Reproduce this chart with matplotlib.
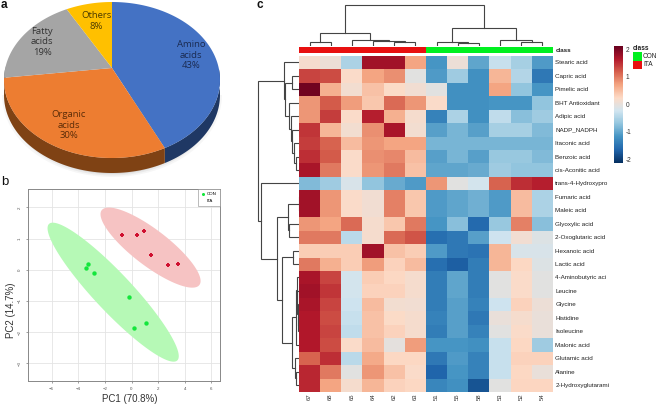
import numpy as np
import matplotlib
matplotlib.use("Agg")
import matplotlib.pyplot as plt
from matplotlib.colors import LinearSegmentedColormap

plt.rcParams['font.family'] = ['Liberation Sans', 'DejaVu Sans']

W, H = 657, 405

# pie data
pie_labels = ["Amino\nacids\n43%", "Organic\nacids\n30%", "Fatty\nacids\n19%", "Others\n8%"]
pie_values = [43, 30, 19, 8]
pie_colors = ["#4472c4", "#ed7d31", "#a5a5a5", "#ffc000"]
pie_sides = ["#1f3864", "#7f4214", "#6b6b6b", "#a07800"]

# pca scores
con_pc1 = [-3.29, -3.44, -2.79, -0.16, 0.16, 1.11]
con_pc2 = [0.17, 0.06, -0.10, -0.86, -1.87, -1.71]
ita_pc1 = [-0.74, 0.44, 0.96, 1.49, 2.74, 3.47]
ita_pc2 = [1.12, 1.13, 1.23, 0.46, 0.14, 0.18]
# ellipse centre, half long axis, half short axis
con_ellipse = [(-1.38, -0.72), (4.82, -2.19), (1.04, 0.42)]
ita_ellipse = [(1.43, 0.71), (3.67, -1.20), (0.82, 0.46)]

# heatmap
samples = ["67", "68", "65", "64", "62", "63", "51", "55", "58", "53", "52", "54"]
metabolites = ["Stearic acid", "Capric acid", "Pimelic acid", "BHT Antioxidant", "Adipic acid",
               "NADP_NADPH", "Itaconic acid", "Benzoic acid", "cis-Aconitic acid",
               "trans-4-Hydroxypro", "Fumaric acid", "Maleic acid", "Glyoxylic acid",
               "2-Oxoglutaric acid", "Hexanoic acid", "Lactic acid", "4-Aminobutyric aci",
               "Leucine", "Glycine", "Histidine", "Isoleucine", "Malonic acid",
               "Glutamic acid", "Alanine", "2-Hydroxyglutarami"]
heat = [
    [.15, .05, -.5, 1.75, 1.75, .7, -1.15, .05, -1.0, -.3, -.55, -1.1],
    [1.35, 1.3, .2, .7, .85, -.05, -1.1, -.6, -1.2, .55, -.45, -1.45],
    [2.05, .6, .12, .45, .22, .1, -.05, -1.2, -1.2, .7, -.7, -1.15],
    [.8, 1.2, .75, .4, 1.1, .8, .2, -1.2, -1.2, -1.15, -1.15, -.7],
    [.8, 1.4, .2, 1.6, .6, .15, -1.35, -.5, -1.2, -.35, -.75, -.6],
    [1.45, .55, .12, .85, 1.7, .12, -1.05, -.85, -1.05, -.55, -.55, -.8],
    [1.4, 1.15, .5, .8, .7, .7, -.85, -.85, -.85, -.85, -.85, -.85],
    [1.5, 1.2, .2, .85, .9, .5, -1.05, -.85, -1.05, -.65, -.65, -.8],
    [1.7, 1.0, .2, .8, 1.0, .45, -1.0, -1.0, -.95, -.6, -.7, -.7],
    [-.8, -.6, -.15, -.7, -.95, -1.1, .8, -.05, -.2, 1.15, 1.5, 1.6],
    [1.75, .8, .2, .1, .95, .4, -1.1, -1.0, -.9, -1.1, .5, -.5],
    [1.75, .8, .2, .1, .95, .4, -1.1, -1.0, -.9, -1.1, .5, -.5],
    [.8, .7, 1.1, .15, .4, 1.0, -1.15, -.75, -1.6, -.65, .95, -.75],
    [1.0, 1.0, -.4, .15, 1.1, 1.25, -1.55, -1.45, -1.05, -.25, .1, -.1],
    [.35, .35, .35, 1.75, .45, .35, -1.1, -1.45, -1.5, .55, -.15, -.15],
    [1.0, .6, .35, .75, .3, .5, -1.55, -1.7, -1.4, .55, .25, -.1],
    [1.7, 1.35, -.2, .35, .25, .15, -1.4, -1.0, -1.4, -.05, .2, -.05],
    [1.75, 1.45, -.2, .3, .3, .15, -1.4, -1.0, -1.4, -.05, .2, -.05],
    [1.7, 1.35, -.25, .5, .12, .1, -1.4, -1.05, -1.35, -.25, .3, .05],
    [1.65, 1.3, -.3, .45, .22, .15, -1.35, -1.05, -1.45, .03, .15, .03],
    [1.65, 1.35, -.35, .45, .3, .15, -1.4, -1.05, -1.35, -.05, .2, .03],
    [1.65, 1.3, .2, .5, -.03, .75, -1.15, -1.15, -1.2, -.3, .25, -.6],
    [1.15, 1.5, -.4, .65, .25, .25, -1.45, -1.1, -1.35, -.3, .3, .3],
    [1.55, 1.0, -.05, .8, .45, .2, -1.65, -1.15, -1.35, -.3, .25, .03],
    [1.55, .7, .15, .55, .3, .25, -1.3, -1.2, -1.8, -.05, .28, .28],
]
sample_class = [1, 1, 1, 1, 1, 1, 0, 0, 0, 0, 0, 0]

# dendrogram merges (a, b, height), a negative id is a leaf, others index earlier merges
col_merges = [(-1, -2, 4.5), (-5, -6, 4), (-4, 1, 5), (-3, 2, 6), (0, 3, 13),
              (-8, -9, 3), (-7, 5, 4.5), (-11, -12, 4.5), (-10, 7, 6), (6, 8, 18), (4, 9, 41)]
row_merges = [(-2, -3, 7), (-8, -9, 3), (-7, 1, 5), (-6, 2, 7), (-5, 3, 8.5), (-4, 4, 10),
              (0, 5, 14), (-1, 6, 15),
              (-11, -12, 0.5), (-13, -14, 10), (8, 9, 11),
              (-15, -16, 6.5),
              (-20, -21, 0.8), (-19, 12, 1.2), (-18, 13, 1.6), (-17, 14, 2.2), (15, -22, 3.2),
              (-24, -25, 3), (-23, 17, 4.5), (16, 18, 7), (11, 19, 17.5), (10, 20, 22),
              (-10, 21, 38), (7, 22, 41)]


def px_axes(x0, y0, x1, y1):
    return fig.add_axes([x0 / W, 1 - y1 / H, (x1 - x0) / W, (y1 - y0) / H])


def dendro_lines(merges):
    # returns position, height and the segments of each merge
    nodes = []
    segs = []
    for a, b, h in merges:
        pos = []
        for k in (a, b):
            if k < 0:
                pos.append((-k - 0.5, 0))
            else:
                pos.append(nodes[k])
        segs.append(([pos[0][0], pos[0][0], pos[1][0], pos[1][0]], [pos[0][1], h, h, pos[1][1]]))
        nodes.append(((pos[0][0] + pos[1][0]) / 2, h))
    return segs


fig = plt.figure(figsize=(W / 100, H / 100), dpi=100)

# panel a, tilted pie, canvas in pixels
ax_a = fig.add_axes([0, 0, 1, 1])
ax_a.set_xlim(0, W)
ax_a.set_ylim(H, 0)
ax_a.axis("off")

cx, cy, rx, ry, tilt, depth = 112, 80, 108, 78, 0.154, 15


def pie_xy(frac):
    # perspective view of the unit circle, clockwise from the top
    t = 2 * np.pi * np.asarray(frac)
    x, y = np.sin(t), np.cos(t)
    d = 1 + tilt * y
    return cx + rx * x * np.sqrt(1 - tilt ** 2) / d, cy - ry * (y + tilt) / d


for r, a in zip([8, 5, 2], [0.05, 0.07, 0.1]):
    t = np.linspace(0, np.pi, 80)
    ax_a.fill(cx + (rx - 6 + r) * np.cos(t), cy + depth + (ry + r * 0.5) * np.sin(t), color="#555555", alpha=a, lw=0)

edges = np.cumsum([0] + pie_values) / sum(pie_values)
for i in range(len(pie_values)):
    f = np.linspace(edges[i], edges[i + 1], 120)
    # side wall
    xs, ys = pie_xy(f)
    keep = (f > 0.25) & (f < 0.755)
    if keep.sum() > 1:
        ax_a.fill(np.r_[xs[keep], xs[keep][::-1]], np.r_[ys[keep], ys[keep][::-1] + depth],
                  color=pie_sides[i], lw=0)
for i in range(len(pie_values)):
    f = np.linspace(edges[i], edges[i + 1], 120)
    xs, ys = pie_xy(f)
    ax_a.fill(np.r_[cx, xs], np.r_[cy - ry * tilt, ys], color=pie_colors[i], lw=0)

pie_text_x = [191, 69, 42, 96]
pie_text_y = [55, 125, 42, 21]
pie_text_col = ["#1a2a50", "#5a2c08", "#333333", "#4a3a00"]
for s, x, y, c in zip(pie_labels, pie_text_x, pie_text_y, pie_text_col):
    ax_a.text(x, y, s, ha="center", va="center", fontsize=6.8, color=c, linespacing=1.2, family="Open Sans")

ax_a.text(1, 8, "a", fontsize=8.5, fontweight="bold", va="baseline", color="#111111")
ax_a.text(1, 185, "b", fontsize=9.5, va="baseline", color="#111111")
ax_a.text(256.5, 8, "c", fontsize=8.5, fontweight="bold", va="baseline", color="#111111")

# panel b, pca
ax_b = px_axes(28, 189, 220, 381)
ax_b.set_xlim(-7.78, 6.65)
ax_b.set_ylim(-3.57, 2.59)
ax_b.grid(color="#e4e4e4", lw=0.6)
ax_b.set_axisbelow(True)
t = np.linspace(0, 2 * np.pi, 200)
for e, c in zip([con_ellipse, ita_ellipse], ["#b6f9b6", "#f6c3c3"]):
    ax_b.fill(e[0][0] + e[1][0] * np.cos(t) + e[2][0] * np.sin(t),
              e[0][1] + e[1][1] * np.cos(t) + e[2][1] * np.sin(t), color=c, lw=0)
ax_b.scatter(con_pc1, con_pc2, s=10, color="#14e63c", marker="o", lw=0, label="CON", zorder=3)
ax_b.scatter(ita_pc1, ita_pc2, s=9, color="#cf1030", marker="P", lw=0, label="ITA", zorder=3)
ax_b.set_xticks([-6, -4, -2, 0, 2, 4, 6])
ax_b.set_yticks([-3, -2, -1, 0, 1, 2])
ax_b.tick_params(length=1.5, width=0.4, labelsize=3.2, colors="#555555", pad=3)
for lab in ax_b.get_yticklabels():
    lab.set_rotation(90)
    lab.set_va("center")
ax_b.set_xlabel("PC1 (70.8%)", fontsize=7, color="#333333")
ax_b.set_ylabel("PC2 (14.7%)", fontsize=7, color="#333333")
ax_b.xaxis.set_label_coords((130 - 28) / 192, -(399 - 381) / 192, )
ax_b.xaxis.label.set_va("center")
ax_b.yaxis.set_label_coords(-(28 - 11) / 192, (310 - 189) / 192 * -1 + 1)
ax_b.yaxis.label.set_va("center")
for sp in ax_b.spines.values():
    sp.set_linewidth(0.7)
    sp.set_color("#888888")
leg = ax_b.legend(loc="upper right", fontsize=3.2, frameon=True, fancybox=False, edgecolor="#888888",
                  framealpha=1, borderaxespad=0, borderpad=0.7, handletextpad=0.3, labelspacing=0.5,
                  markerscale=0.7, handlelength=1)
leg.get_frame().set_linewidth(0.4)

# panel c, heatmap
cmap = LinearSegmentedColormap.from_list("rdbu10", ["#053061", "#2166ac", "#4393c3", "#92c5de", "#d1e5f0",
                                                    "#fddbc7", "#f4a582", "#d6604d", "#b2182b", "#67001f"], N=256)
ax_c = px_axes(299, 55.7, 553, 391.7)
im = ax_c.imshow(np.array(heat), cmap=cmap, vmin=-2.12, vmax=2.12, aspect="auto", interpolation="nearest")
ax_c.set_xticks(range(len(samples)))
ax_c.set_xticklabels(samples, rotation=90, fontsize=4.3, color="#333333")
ax_c.set_yticks(range(len(metabolites)))
ax_c.set_yticklabels(metabolites, fontsize=4.5, color="#222222")
ax_c.yaxis.tick_right()
ax_c.tick_params(length=0, pad=1.7)
ax_c.tick_params(axis="x", pad=1.5)
for sp in ax_c.spines.values():
    sp.set_visible(False)

# class bar
ax_bar = px_axes(299, 47, 553, 53.5)
ax_bar.imshow([sample_class], cmap=LinearSegmentedColormap.from_list("cls", ["#00f020", "#e81010"]), aspect="auto")
ax_bar.set_xticks([])
ax_bar.set_yticks([0])
ax_bar.set_yticklabels(["class"], fontsize=4.5, fontweight="bold", color="#222222")
ax_bar.yaxis.tick_right()
ax_bar.tick_params(length=0, pad=1.7)
for sp in ax_bar.spines.values():
    sp.set_visible(False)

# dendrograms
ax_top = px_axes(299, 0, 553, 46)
ax_top.set_xlim(0, len(samples))
ax_top.set_ylim(0, 46)
ax_top.axis("off")
for xs, ys in dendro_lines(col_merges):
    ax_top.plot(xs, ys, color="#444444", lw=0.8, solid_joinstyle="miter")

ax_left = px_axes(250, 55.7, 299, 391.7)
ax_left.set_ylim(len(metabolites), 0)
ax_left.set_xlim(49, 0)
ax_left.axis("off")
for ps, hs in dendro_lines(row_merges):
    ax_left.plot(hs, ps, color="#444444", lw=0.8, solid_joinstyle="miter")

# colour bar
ax_cb = px_axes(614, 46, 622.5, 162.7)
cb = fig.colorbar(im, cax=ax_cb, ticks=[-2, -1, 0, 1, 2])
cb.outline.set_visible(False)
cb.ax.tick_params(length=0, labelsize=4.7, pad=2.5, labelcolor="#333333")
cb.ax.set_yticklabels(["-2", "-1", "0", "1", "2"])

# class legend
legend_names = ["CON", "ITA"]
legend_colors = ["#00f020", "#e81010"]
legend_y = [52, 60.5]
ax_a.set_zorder(5)
ax_a.text(632.5, 48, "class", fontsize=4.7, fontweight="bold", va="center", color="#222222")
for name, col, y in zip(legend_names, legend_colors, legend_y):
    ax_a.fill([633, 641.5, 641.5, 633], [y, y, y + 8.5, y + 8.5], color=col, lw=0)
    ax_a.text(643, y + 4.3, name, fontsize=4.7, va="center", color="#222222")

fig.savefig("out.png", dpi=100)
